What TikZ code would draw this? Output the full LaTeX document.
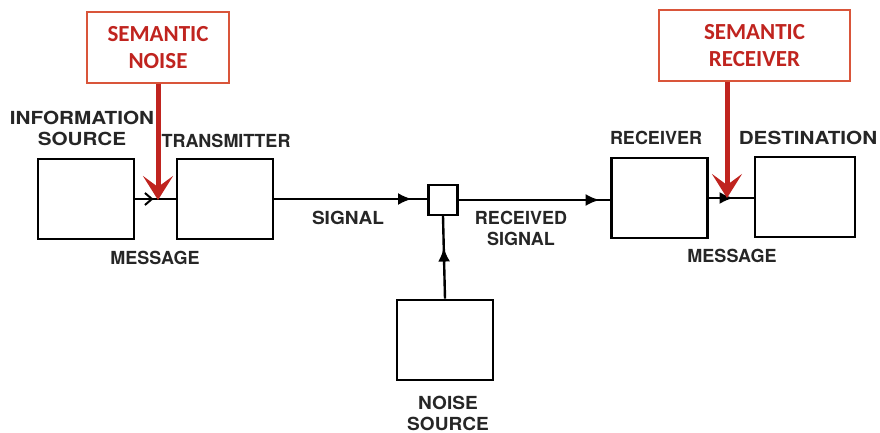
\documentclass[tikz,border=0pt]{standalone}
\usepackage{fontspec}
\setmainfont{TeX Gyre Heros}
\newfontfamily\wideblk[FakeStretch=1.15]{TeX Gyre Heros}
\newfontfamily\midblk[FakeStretch=1.06]{TeX Gyre Heros}
\newfontfamily\narblk{TeX Gyre Heros}
\newfontfamily\redfont{Carlito}
\usetikzlibrary{arrows.meta,decorations.markings}
\definecolor{semred}{HTML}{C0241F}
\definecolor{semframe}{HTML}{D9553A}
\tikzset{
  blk/.style={draw=black,line width=2.6pt,minimum width=96pt,minimum height=80pt,inner sep=0pt},
  tiny/.style={draw=black,line width=2.4pt,minimum width=29pt,minimum height=30pt,inner sep=0pt},
  lbl/.style={font=\narblk\bfseries\fontsize{18}{21}\selectfont,text=black!85,align=center,inner sep=0pt},
  lblw/.style={lbl,font=\wideblk\bfseries\fontsize{18}{21}\selectfont},
  lblm/.style={lbl,font=\midblk\bfseries\fontsize{18}{21}\selectfont},
  semlbl/.style={draw=semframe,line width=1.2pt,fill=white,font=\redfont\bfseries\fontsize{23}{27}\selectfont,text=semred,align=center,inner sep=0pt},
  wire/.style={line width=2.4pt,draw=black},
  midtip/.style={postaction={decorate},decoration={markings,mark=at position #1 with {\arrow{Latex[length=14pt,width=12pt]}}}},
  opentip/.style={postaction={decorate},decoration={markings,mark=at position #1 with {\arrow{Straight Barb[length=7pt,width=12pt,line width=2pt]}}}},
  redarrow/.style={draw=semred,line width=5pt,-{Stealth[length=24pt,width=30pt,inset=11pt]}}
}
\begin{document}
\begin{tikzpicture}[x=1pt,y=-1pt]
\useasboundingbox (0,0) rectangle (880,433);
% boxes
\node[blk] (src) at (86,199) {};
\node[blk] (tx) at (225,199) {};
\node[tiny] (mix) at (443,200) {};
\node[blk] (rx) at (659.5,198) {};
\node[blk,minimum width=100pt] (dst) at (805,197) {};
\node[blk] (ns) at (445,340) {};
% labels
\node[lblw] (lsrc) at (82,128) {INFORMATION\\SOURCE};
\node[lbl] (ltx) at (226,141) {TRANSMITTER};
\node[lbl] (lmsg1) at (155,258) {MESSAGE};
\node[lblm] (lsig) at (348,218) {SIGNAL};
\node[lbl] (lrs) at (521,228) {RECEIVED\\SIGNAL};
\node[lblm] (lns) at (448,413) {NOISE\\SOURCE};
\node[lbl] (lrx) at (656,138) {RECEIVER};
\node[lblw] (ldst) at (808,138) {DESTINATION};
\node[lbl] (lmsg2) at (732,256) {MESSAGE};
% connectors
\draw[wire,opentip=0.45] (src.east) -- (tx.west);
\draw[wire,midtip=0.9] (tx.east) -- (mix.west |- tx.east);
\draw[wire,midtip=0.93] (mix.east) -- (rx.west |- mix.east);
\draw[wire,midtip=0.62] (ns.north) -- (mix.south);
\draw[wire,midtip=0.55] (rx.east) -- (dst.west |- rx.east);
% semantic boxes
\node[semlbl,minimum width=142pt,minimum height=71pt] (sn) at (158,47.5) {SEMANTIC\\NOISE};
\node[semlbl,minimum width=191pt,minimum height=71pt] (sr) at (754.5,45.5) {SEMANTIC\\RECEIVER};
\coordinate (snt) at (158,200);
\coordinate (srt) at (727,198);
\draw[redarrow] (sn.south -| snt) -- (snt);
\draw[redarrow] (sr.south -| srt) -- (srt);
\end{tikzpicture}
\end{document}
